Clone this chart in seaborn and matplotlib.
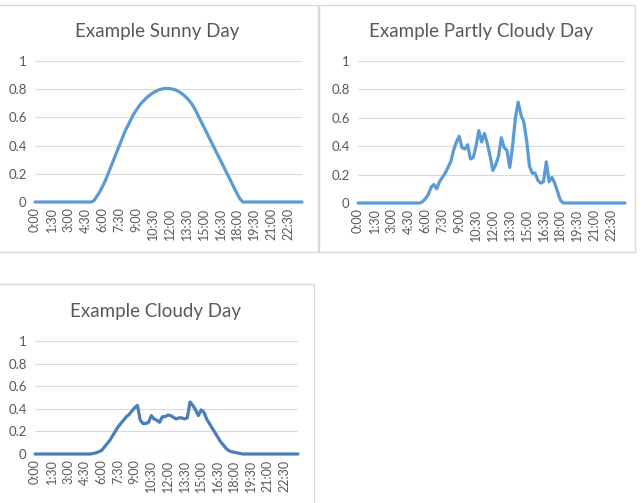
import matplotlib
matplotlib.use("Agg")
import matplotlib.pyplot as plt
from matplotlib.patches import Rectangle
import seaborn as sns
import pandas as pd
import numpy as np

# 15-minute time slots 0:00 .. 23:45
times = [f"{h}:{m:02d}" for h in range(24) for m in (0, 15, 30, 45)]

sunny = [0]*21 + [
    0.01, 0.04, 0.07, 0.11, 0.15, 0.20, 0.25, 0.30, 0.35, 0.40,
    0.45, 0.50, 0.54, 0.58, 0.62, 0.65, 0.68, 0.705, 0.725, 0.745,
    0.76, 0.775, 0.785, 0.795, 0.80, 0.805, 0.805, 0.805, 0.80, 0.795,
    0.785, 0.772, 0.757, 0.738, 0.715, 0.69, 0.655, 0.615, 0.575, 0.535,
    0.495, 0.455, 0.415, 0.375, 0.335, 0.295, 0.255, 0.215, 0.175, 0.135,
    0.095, 0.055, 0.02] + [0]*22

partly = [0]*23 + [
    0.01, 0.03, 0.06, 0.11, 0.13, 0.10, 0.15, 0.18, 0.21, 0.25,
    0.29, 0.37, 0.43, 0.47, 0.39, 0.38, 0.41, 0.31, 0.32, 0.40,
    0.51, 0.43, 0.49, 0.42, 0.33, 0.23, 0.27, 0.33, 0.46, 0.39,
    0.37, 0.25, 0.40, 0.60, 0.71, 0.62, 0.57, 0.44, 0.26, 0.21,
    0.21, 0.16, 0.14, 0.15, 0.29, 0.15, 0.18, 0.14, 0.08, 0.02] + [0]*23

cloudy = [0]*21 + [
    0.005, 0.01, 0.02, 0.03, 0.06, 0.09, 0.12, 0.16, 0.20, 0.24,
    0.27, 0.30, 0.33, 0.35, 0.38, 0.41, 0.43, 0.30, 0.27, 0.27,
    0.28, 0.34, 0.31, 0.30, 0.28, 0.33, 0.33, 0.345, 0.34, 0.325,
    0.31, 0.32, 0.32, 0.31, 0.32, 0.46, 0.43, 0.39, 0.34, 0.39,
    0.37, 0.31, 0.27, 0.23, 0.19, 0.15, 0.11, 0.08, 0.05, 0.03,
    0.02, 0.015, 0.01, 0.005] + [0]*21

titles = ["Example Sunny Day", "Example Partly Cloudy Day", "Example Cloudy Day"]
series = [sunny, partly, cloudy]
colors = ["#5B9BD5", "#5B9BD5", "#4A7EBB"]
yticks = [0, 0.2, 0.4, 0.6, 0.8, 1]
ytick_labels = ["0", "0.2", "0.4", "0.6", "0.8", "1"]

sns.set_theme(style="white")
plt.rcParams['font.family'] = ['Lato', 'DejaVu Sans']

W, H = 643, 503
fig = plt.figure(figsize=(W/100, H/100), dpi=100)

# panel geometry in pixels: (plot left, plot top, plot right, plot bottom), title pos, border
axes_px = [(35, 61, 302, 202), (358, 61, 625, 203), (35, 341, 298, 454)]
title_px = [(157, 32), (481, 32), (155, 311)]
border_px = [(-2, 5, 318, 252), (319, 5, 635, 252), (-2, 284, 314, 520)]

for (x0, y0, x1, y1) in border_px:
    fig.patches.append(Rectangle((x0/W, 1 - y1/H), (x1-x0)/W, (y1-y0)/H,
                                 transform=fig.transFigure, fill=False,
                                 edgecolor="#D9D9D9", linewidth=1.0, zorder=0))

for i in range(3):
    x0, y0, x1, y1 = axes_px[i]
    ax = fig.add_axes([x0/W, 1 - y1/H, (x1-x0)/W, (y1-y0)/H])
    df = pd.DataFrame({"idx": np.arange(len(times)), "value": series[i]})
    sns.lineplot(data=df, x="idx", y="value", ax=ax, color=colors[i],
                 linewidth=2.3, clip_on=False, zorder=3)
    ax.set_xlim(0, len(times) - 1)
    ax.set_ylim(0, 1)
    ax.set_yticks(yticks)
    ax.set_yticklabels(ytick_labels)
    ax.set_xticks(np.arange(0, len(times), 6))
    ax.set_xticklabels(times[::6], rotation=90)
    ax.grid(axis="y", color="#D9D9D9", linewidth=0.8)
    ax.set_axisbelow(True)
    for s in ax.spines.values():
        s.set_visible(False)
    ax.tick_params(axis="y", length=0, pad=6, labelsize=9.5, labelcolor="#595959")
    ax.tick_params(axis="x", length=0, pad=4, labelsize=9, labelcolor="#595959")
    ax.set_xlabel("")
    ax.set_ylabel("")
    tx, ty = title_px[i]
    fig.text(tx/W, 1 - ty/H, titles[i], ha="center", va="center",
             fontsize=13.5, color="#595959")

fig.savefig("out.png", dpi=100)
